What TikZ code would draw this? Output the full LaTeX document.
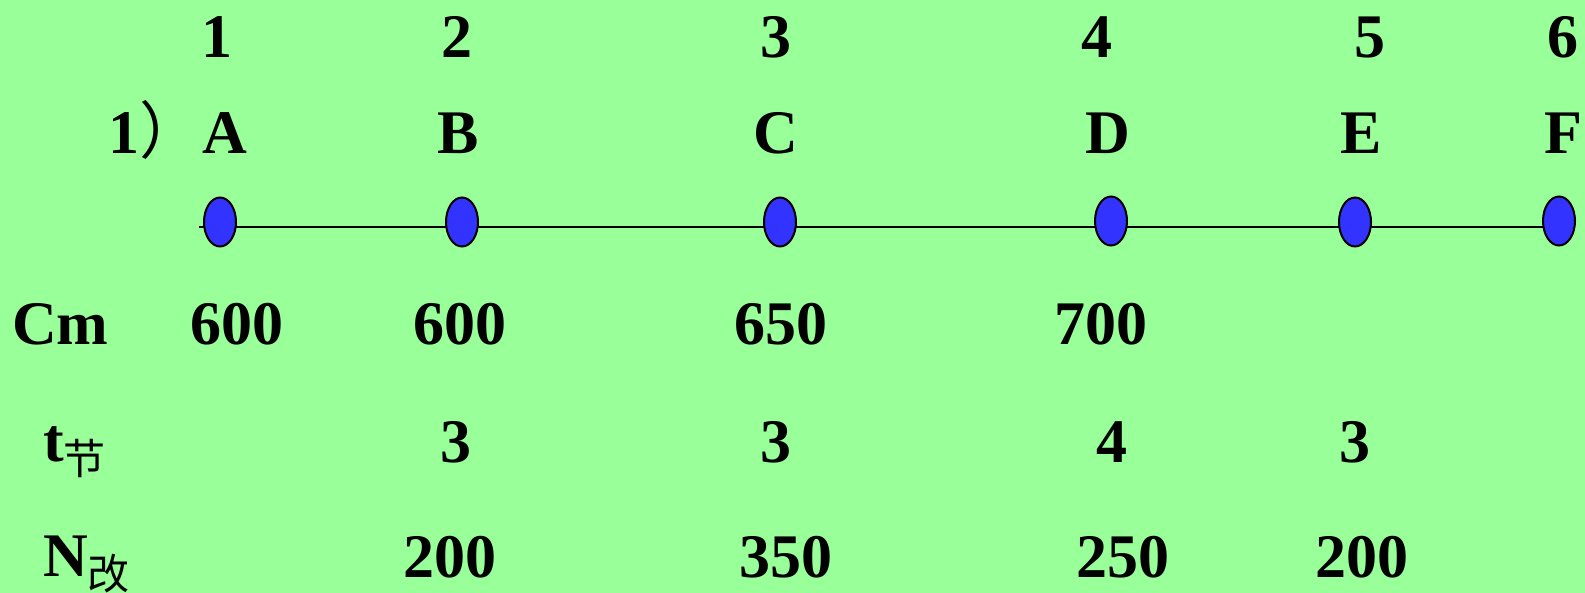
\documentclass[tikz,border=0pt]{standalone}
\usepackage{fontspec}
\setmainfont{Liberation Serif}
\newfontfamily\cjk{Noto Sans CJK SC}
\usetikzlibrary{shapes.geometric,backgrounds}
\definecolor{bggreen}{HTML}{99FF99}
\definecolor{dotblue}{HTML}{3333FF}
\tikzset{
  txt/.style={inner sep=0pt,anchor=base,font=\fontsize{62}{70}\selectfont\bfseries},
  txtw/.style={txt,anchor=base west},
  dot/.style={ellipse,draw=black,line width=2pt,fill=dotblue,minimum width=32pt,minimum height=49pt,inner sep=0pt},
  axis/.style={draw=black,line width=1.8pt}
}
\newcommand{\subcjk}[1]{\raisebox{-13pt}{\cjk\mdseries\fontsize{42}{44}\selectfont #1}}
\begin{document}
\begin{tikzpicture}[x=1pt,y=-1pt]
\useasboundingbox (0,0) rectangle (1585,593);
% top numbers
\node[txt] (n1) at (217,58) {1};
\node[txt] (n2) at (457,58) {2};
\node[txt] (n3) at (776,58) {3};
\node[txt] (n4) at (1097,58) {4};
\node[txt] (n5) at (1370,58) {5};
\node[txt] (n6) at (1563,58) {6};
% letters
\node[txtw] (lbl) at (108,154) {1{\cjk\mdseries ）}};
\node[txt] (la) at (225,154) {A};
\node[txt] (lb) at (458,154) {B};
\node[txt] (lc) at (776,154) {C};
\node[txt] (ld) at (1108,154) {D};
\node[txt] (le) at (1361,154) {E};
\node[txt] (lf) at (1563,154) {F};
% dots
\coordinate (start) at (199,227);
\node[dot] (A) at (220,222) {};
\node[dot] (B) at (462,222) {};
\node[dot] (C) at (780,222) {};
\node[dot] (D) at (1111,221) {};
\node[dot] (E) at (1355,222) {};
\node[dot] (F) at (1559,221) {};
\begin{pgfonlayer}{background}
\fill[bggreen] (0,0) rectangle (1585,593);
\draw[axis] (start) -- (start -| F.center);
\end{pgfonlayer}
% Cm row
\node[txtw] (cm) at (12,345) {Cm};
\node[txt] (c1) at (237,345) {600};
\node[txt] (c2) at (460,345) {600};
\node[txt] (c3) at (781,345) {650};
\node[txt] (c4) at (1101,345) {700};
% t row
\node[txtw] (t) at (43,461) {t\subcjk{节}};
\node[txt] (t1) at (456,462) {3};
\node[txt] (t2) at (776,462) {3};
\node[txt] (t3) at (1112,462) {4};
\node[txt] (t4) at (1355,462) {3};
% N row
\node[txtw] (nn) at (43,576) {N\subcjk{改}};
\node[txt] (m1) at (450,577) {200};
\node[txt] (m2) at (786,577) {350};
\node[txt] (m3) at (1123,577) {250};
\node[txt] (m4) at (1362,577) {200};
\end{tikzpicture}
\end{document}
